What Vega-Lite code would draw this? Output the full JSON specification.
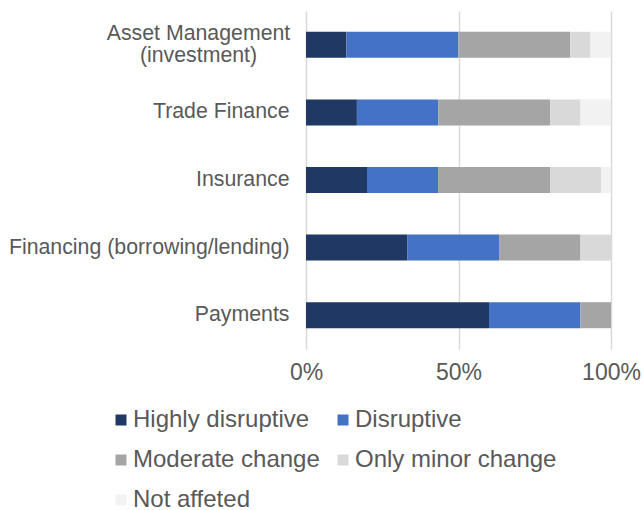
{
  "$schema": "https://vega.github.io/schema/vega-lite/v6.json",
  "width": 305,
  "height": 338,
  "autosize": "none",
  "padding": {"left": 306, "top": 11, "right": 32, "bottom": 161},
  "background": "white",
  "data": {
    "values": [
      {"sector": "Asset Management (investment)", "impact": "Highly disruptive", "rank": 1, "share": 13.3},
      {"sector": "Asset Management (investment)", "impact": "Disruptive", "rank": 2, "share": 36.7},
      {"sector": "Asset Management (investment)", "impact": "Moderate change", "rank": 3, "share": 36.7},
      {"sector": "Asset Management (investment)", "impact": "Only minor change", "rank": 4, "share": 6.7},
      {"sector": "Asset Management (investment)", "impact": "Not affeted", "rank": 5, "share": 6.7},
      {"sector": "Trade Finance", "impact": "Highly disruptive", "rank": 1, "share": 16.7},
      {"sector": "Trade Finance", "impact": "Disruptive", "rank": 2, "share": 26.7},
      {"sector": "Trade Finance", "impact": "Moderate change", "rank": 3, "share": 36.7},
      {"sector": "Trade Finance", "impact": "Only minor change", "rank": 4, "share": 10},
      {"sector": "Trade Finance", "impact": "Not affeted", "rank": 5, "share": 10},
      {"sector": "Insurance", "impact": "Highly disruptive", "rank": 1, "share": 20},
      {"sector": "Insurance", "impact": "Disruptive", "rank": 2, "share": 23.3},
      {"sector": "Insurance", "impact": "Moderate change", "rank": 3, "share": 36.7},
      {"sector": "Insurance", "impact": "Only minor change", "rank": 4, "share": 16.7},
      {"sector": "Insurance", "impact": "Not affeted", "rank": 5, "share": 3.3},
      {"sector": "Financing (borrowing/lending)", "impact": "Highly disruptive", "rank": 1, "share": 33.3},
      {"sector": "Financing (borrowing/lending)", "impact": "Disruptive", "rank": 2, "share": 30},
      {"sector": "Financing (borrowing/lending)", "impact": "Moderate change", "rank": 3, "share": 26.7},
      {"sector": "Financing (borrowing/lending)", "impact": "Only minor change", "rank": 4, "share": 10},
      {"sector": "Financing (borrowing/lending)", "impact": "Not affeted", "rank": 5, "share": 0},
      {"sector": "Payments", "impact": "Highly disruptive", "rank": 1, "share": 60},
      {"sector": "Payments", "impact": "Disruptive", "rank": 2, "share": 30},
      {"sector": "Payments", "impact": "Moderate change", "rank": 3, "share": 10},
      {"sector": "Payments", "impact": "Only minor change", "rank": 4, "share": 0},
      {"sector": "Payments", "impact": "Not affeted", "rank": 5, "share": 0}
    ]
  },
  "mark": {"type": "bar"},
  "encoding": {
    "y": {
      "field": "sector",
      "type": "nominal",
      "sort": ["Asset Management (investment)", "Trade Finance", "Insurance", "Financing (borrowing/lending)", "Payments"],
      "scale": {"paddingInner": 0.615, "paddingOuter": 0.3075},
      "axis": {
        "title": null,
        "domain": false,
        "ticks": false,
        "labelFont": "Liberation Sans",
        "labelFontSize": 21.3,
        "labelColor": "#595959",
        "labelLineHeight": 22,
        "labelLimit": 400,
        "labelExpr": "datum.value == 'Asset Management (investment)' ? ['Asset Management', '(investment)'] : datum.value",
        "labelAlign": {"condition": {"test": "datum.value == 'Asset Management (investment)'", "value": "center"}, "value": "right"},
        "labelPadding": {"condition": {"test": "datum.value == 'Asset Management (investment)'", "value": 108}, "value": 17},
        "labelOffset": {"condition": {"test": "datum.value == 'Asset Management (investment)'", "value": -11}, "value": 0}
      }
    },
    "x": {
      "field": "share",
      "type": "quantitative",
      "stack": "normalize",
      "scale": {"domain": [0, 1], "nice": false},
      "axis": {
        "title": null,
        "values": [0, 0.5, 1],
        "format": ".0%",
        "domain": false,
        "ticks": false,
        "labelFlush": false,
        "labelPadding": 12,
        "labelFont": "Liberation Sans",
        "labelFontSize": 23,
        "labelColor": "#595959",
        "gridColor": "#D9D9D9",
        "gridWidth": 1.5
      }
    },
    "order": {"field": "rank", "type": "quantitative"},
    "color": {
      "field": "impact",
      "type": "nominal",
      "scale": {
        "domain": ["Highly disruptive", "Disruptive", "Moderate change", "Only minor change", "Not affeted"],
        "range": ["#203864", "#4472C4", "#A5A5A5", "#D9D9D9", "#F2F2F2"]
      },
      "legend": {
        "title": null,
        "orient": "none",
        "legendX": -197,
        "legendY": 397,
        "padding": 0,
        "direction": "horizontal",
        "columns": 2,
        "symbolType": "square",
        "symbolSize": 121,
        "symbolStrokeWidth": 0,
        "labelFont": "Liberation Sans",
        "labelFontSize": 24,
        "labelColor": "#595959",
        "labelOffset": 0,
        "labelLimit": 300,
        "columnPadding": 11,
        "rowPadding": 16
      }
    }
  },
  "config": {"view": {"stroke": null}}
}
